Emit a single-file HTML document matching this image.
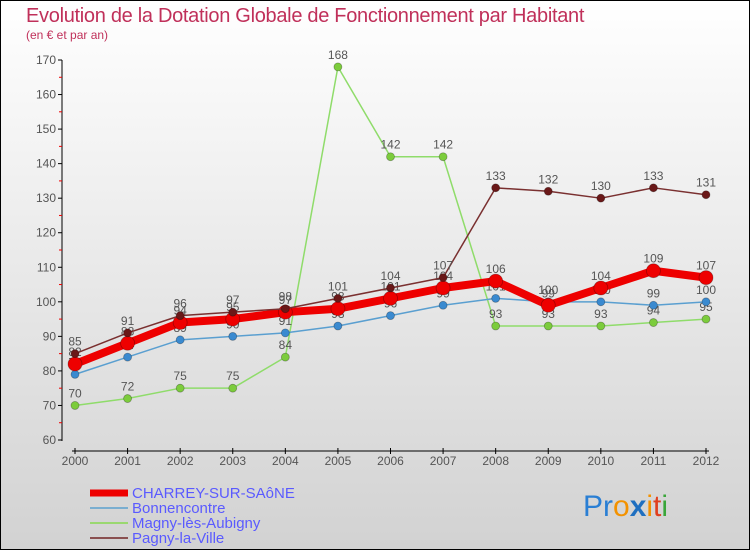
<!DOCTYPE html>
<html><head><meta charset="utf-8"><style>
body{margin:0;}
svg{display:block;font-family:"Liberation Sans","DejaVu Sans",sans-serif;}
</style></head><body>
<svg id="c" width="750" height="550" xmlns="http://www.w3.org/2000/svg">
<defs><linearGradient id="bg" x1="0" y1="0" x2="0" y2="1"><stop offset="0" stop-color="#ffffff"/><stop offset="1" stop-color="#d2d2d2"/></linearGradient></defs>
<rect x="0.5" y="0.5" width="749" height="549" fill="url(#bg)" stroke="#000"/>
<text x="26" y="22" font-size="20" fill="#c0305a" style="letter-spacing:-0.3px">Evolution de la Dotation Globale de Fonctionnement par Habitant</text>
<text x="26" y="39" font-size="12" fill="#c0305a">(en € et par an)</text>
<g id="axes"></g><g id="series"></g><g id="legend"></g>
<text x="583" y="516" font-size="30"><tspan fill="#2a7fd4">Pr</tspan><tspan fill="#f39200">o</tspan><tspan fill="#1f6fc0" font-weight="bold">x</tspan><tspan fill="#f39200">i</tspan><tspan fill="#e0401f">t</tspan><tspan fill="#3aa63a">i</tspan></text>
</svg>
<script>
const years=[2000,2001,2002,2003,2004,2005,2006,2007,2008,2009,2010,2011,2012];
const yTicks=[60,70,80,90,100,110,120,130,140,150,160,170];
const charrey=[82,88,94,95,97,98,101,104,106,99,104,109,107];
const bonnen=[79,84,89,90,91,93,96,99,101,100,100,99,100];
const magny=[70,72,75,75,84,168,142,142,93,93,93,94,95];
const pagny=[85,91,96,97,98,101,104,107,133,132,130,133,131];
const NS="http://www.w3.org/2000/svg";
const X=i=>75+i*(706-75)/12;
const Y=v=>440-(v-60)*380/110;
function mk(t,a,p){const e=document.createElementNS(NS,t);for(const k in a)e.setAttribute(k,a[k]);p.appendChild(e);return e;}
const ax=document.getElementById('axes');
let l=mk('line',{x1:62,y1:60,x2:62,y2:441,stroke:'#000'},ax);


l=mk('line',{x1:72,y1:451,x2:709,y2:451,stroke:'#000'},ax);


yTicks.forEach((v,i)=>{
 mk('line',{x1:58,y1:Y(v),x2:62,y2:Y(v),stroke:'#000'},ax);
 if(i<yTicks.length-1)mk('line',{x1:59,y1:Y(v+5),x2:62,y2:Y(v+5),stroke:'#e00'},ax);
 const t=mk('text',{x:56,y:Y(v)+4,'font-size':12,fill:'#555','text-anchor':'end'},ax);t.textContent=v;
 
 
});
years.forEach((y,i)=>{
 mk('line',{x1:X(i),y1:448,x2:X(i),y2:454,stroke:'#000'},ax);
 const t=mk('text',{x:X(i),y:465,'font-size':12,fill:'#555','text-anchor':'middle'},ax);t.textContent=y;
 
 
});
const sg=document.getElementById('series');
function series(d,color,w,r,dot,name){
 const g=mk('g',{},sg);
 
 
 mk('polyline',{points:d.map((v,i)=>X(i)+','+Y(v)).join(' '),fill:'none',stroke:color,'stroke-width':w,'stroke-linejoin':'round'},g);
 d.forEach((v,i)=>{
  const c=mk('circle',{cx:X(i),cy:Y(v),r:r,fill:dot,stroke:'rgba(0,0,0,0.3)','stroke-width':0.8},g);
  
  
  const t=mk('text',{x:X(i),y:Y(v)-8,'font-size':12,fill:'#555','text-anchor':'middle'},g);t.textContent=v;
 });
}
series(magny,'#8fdc6a',1.5,4,'#7ccc3c','magny-series');
series(bonnen,'#5a9fd0',1.5,4,'#3a8ad0','bonnencontre-series');
series(charrey,'#ee0000',8,7,'#ee0000','charrey-series');
series(pagny,'#7a3030',1.5,4,'#6a1818','pagny-series');
const lg=document.getElementById('legend');
[['CHARREY-SUR-SAôNE','#ee0000',7],['Bonnencontre','#7aaed0',2],['Magny-lès-Aubigny','#9ad870',2],['Pagny-la-Ville','#8a5050',2]].forEach((e,i)=>{
 const y=493+i*15;
 const g=mk('g',{},lg);
 
 
 mk('line',{x1:90,y1:y,x2:128,y2:y,stroke:e[1],'stroke-width':e[2]},g);
 const t=mk('text',{x:132,y:y+5,'font-size':15,fill:'#5a5aff'},g);t.textContent=e[0];
});
</script>
</body></html>
